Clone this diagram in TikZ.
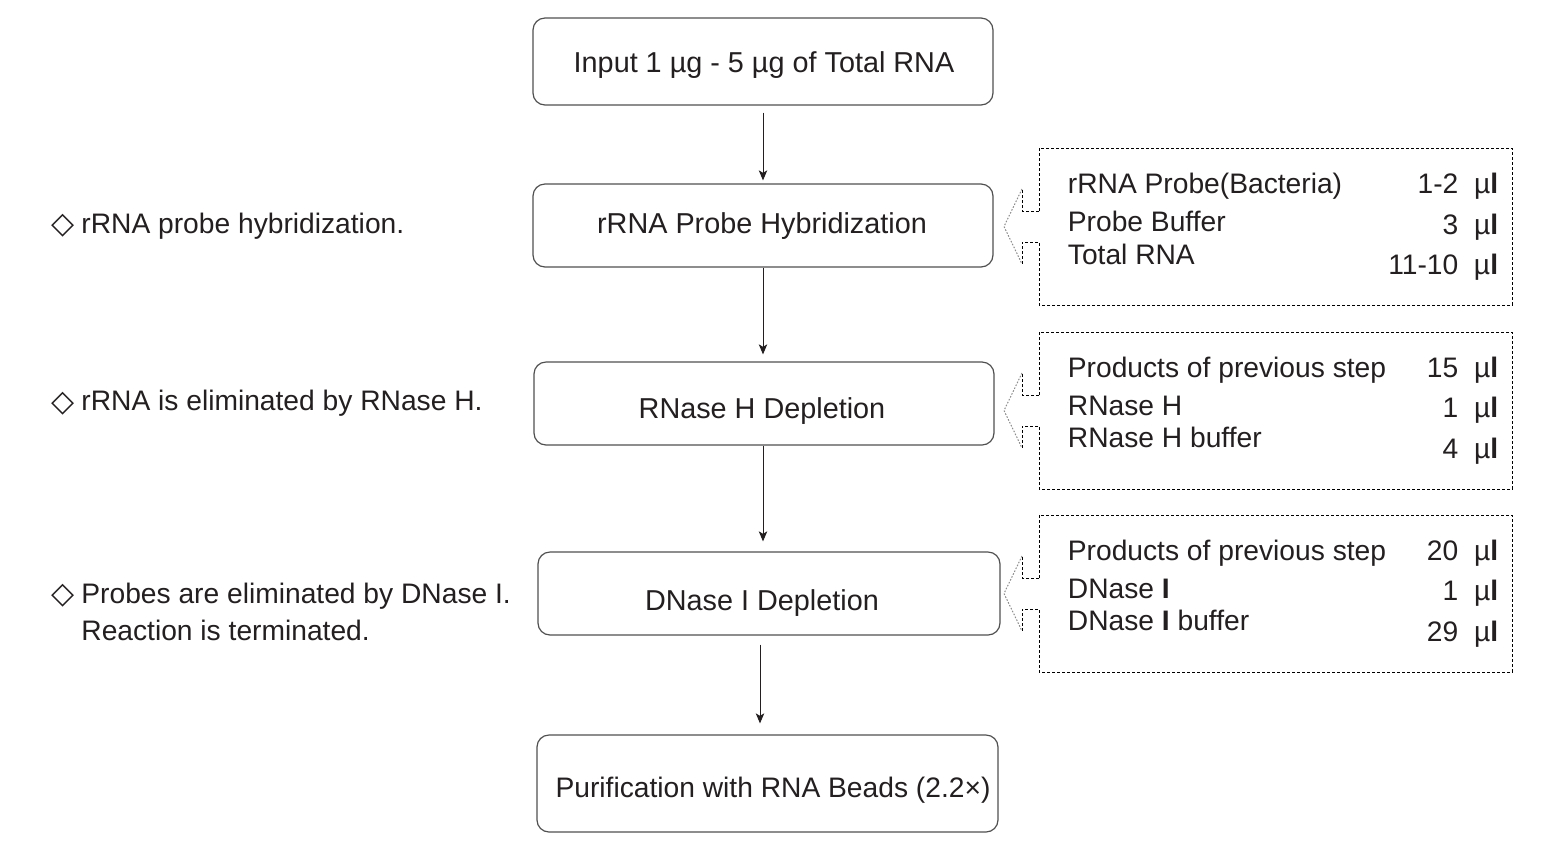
\documentclass[tikz,border=0pt]{standalone}
\usepackage{fontspec}
\setmainfont{Liberation Sans}
\newfontfamily\djv{DejaVu Sans}
\usetikzlibrary{arrows.meta,calc}
\definecolor{txt}{HTML}{231F20}
\definecolor{boxline}{HTML}{505050}
\definecolor{callgray}{HTML}{8C8C8C}
\tikzset{
  mainbox/.style={draw=boxline, line width=0.6pt, rounded corners=6pt, inner sep=0pt, minimum width=230pt},
  maintext/.style={anchor=base, inner sep=0pt, text=txt, font=\fontsize{14.4pt}{17pt}\selectfont},
  notetext/.style={anchor=base west, inner sep=0pt, text=txt, font=\fontsize{14.1pt}{17pt}\selectfont},
  diam/.style={inner sep=0pt, text=txt, font=\djv\fontsize{15pt}{17pt}\selectfont},
  tabl/.style={anchor=base west, inner sep=0pt, text=txt, font=\fontsize{14.1pt}{17pt}\selectfont},
  tabr/.style={anchor=base east, inner sep=0pt, text=txt, font=\fontsize{14.1pt}{17pt}\selectfont},
  tablearea/.style={inner sep=0pt, minimum width=236.5pt, minimum height=78.5pt},
  tabledash/.style={draw=black, line width=0.5pt, dash pattern=on 1.6pt off 0.9pt},
  calldot/.style={draw=callgray, line width=0.5pt, dash pattern=on 0.8pt off 0.8pt},
  flowarrow/.style={draw=txt, line width=0.5pt, -{Stealth[length=5pt,width=4.2pt,inset=1.2pt]}}
}
\newcommand\uL{\ \ µ\textbf{l}}
\newcommand\mycallout[1]{%
  \begin{scope}[shift={(0,#1)}]
    \draw[tabledash] (1039,-15.5) -- (1039,-78.5) -- (1512,-78.5) -- (1512,78.5) -- (1039,78.5) -- (1039,15.5) -- (1022,15.5) -- (1022,37.5);
    \draw[tabledash] (1039,-15.5) -- (1022,-15.5) -- (1022,-37.5);
    \draw[calldot] (1022,-37.5) -- (1004,0) -- (1022,37.5);
  \end{scope}}
\begin{document}
\begin{tikzpicture}[x=0.5pt,y=-0.5pt]
\useasboundingbox (0,0) rectangle (1554,864);
\fill[white] (0,0) rectangle (1554,864);

% main flow boxes
\node[mainbox, minimum height=43.5pt] (b1) at (763,61.5) {};
\node[mainbox, minimum height=41.5pt] (b2) at (763,225.5) {};
\node[mainbox, minimum height=41.5pt] (b3) at (764,403.5) {};
\node[mainbox, minimum height=41.5pt, minimum width=231pt] (b4) at (769,593.5) {};
\node[mainbox, minimum height=48.5pt, minimum width=230.5pt] (b5) at (767.5,783.5) {};

\node[maintext] (t1) at (764,72.7) {Input 1 µg - 5 µg of Total RNA};
\node[maintext] (t2) at (762,233) {rRNA Probe Hybridization};
\node[maintext] (t3) at (762,418.3) {RNase H Depletion};
\node[maintext] (t4) at (762,610) {DNase I Depletion};
\node[maintext] (t5) at (773,797.7) {\fontsize{14.1pt}{17pt}\selectfont Purification with RNA Beads (2.2×)};

% arrows
\draw[flowarrow] ($(b1.south)+(0,7)$) -- ($(b2.north)+(0,-3)$);
\draw[flowarrow] (b2.south) -- ($(b3.north)+(-1,-7)$);
\draw[flowarrow] ($(b3.south)+(-1,0)$) -- ($(b4.north)+(-6,-10)$);
\draw[flowarrow] ($(b4.south)+(-9,9)$) -- ($(b5.north)+(-7.5,-11)$);

% left notes
\node[diam] (d1) at (63,226) {◇};
\node[notetext] (n1) at (81,233.3) {rRNA probe hybridization.};
\node[diam] (d2) at (63,403.5) {◇};
\node[notetext] (n2) at (81,410.7) {rRNA is eliminated by RNase H.};
\node[diam] (d3) at (63,596) {◇};
\node[notetext] (n3) at (81,603.3) {Probes are eliminated by DNase I.};
\node[notetext] (n4) at (81,640) {Reaction is terminated.};

% reagent tables
\node[tablearea] (tA) at (1275.5,226.5) {};
\node[tablearea] (tB) at (1275.5,410.5) {};
\node[tablearea] (tC) at (1275.5,593.5) {};
\mycallout{226.5}
\mycallout{410.5}
\mycallout{593.5}

\node[tabl] (a1) at (1067.5,193.3) {rRNA Probe(Bacteria)};
\node[tabl] (a2) at (1067.5,231.5) {Probe Buffer};
\node[tabl] (a3) at (1067.5,264.5) {Total RNA};
\node[tabr] (av1) at (1498.5,193.3) {1-2\uL};
\node[tabr] (av2) at (1498.5,234) {3\uL};
\node[tabr] (av3) at (1498.5,274) {11-10\uL};

\node[tabl] (bb1) at (1067.5,377) {Products of previous step};
\node[tabl] (bb2) at (1067.5,415) {RNase H};
\node[tabl] (bb3) at (1067.5,447) {RNase H buffer};
\node[tabr] (bv1) at (1498.5,377) {15\uL};
\node[tabr] (bv2) at (1498.5,417) {1\uL};
\node[tabr] (bv3) at (1498.5,458) {4\uL};

\node[tabl] (c1) at (1067.5,560) {Products of previous step};
\node[tabl] (c2) at (1067.5,598) {DNase \textbf{I}};
\node[tabl] (c3) at (1067.5,630) {DNase \textbf{I} buffer};
\node[tabr] (cv1) at (1498.5,560) {20\uL};
\node[tabr] (cv2) at (1498.5,600) {1\uL};
\node[tabr] (cv3) at (1498.5,641) {29\uL};
\end{tikzpicture}
\end{document}
